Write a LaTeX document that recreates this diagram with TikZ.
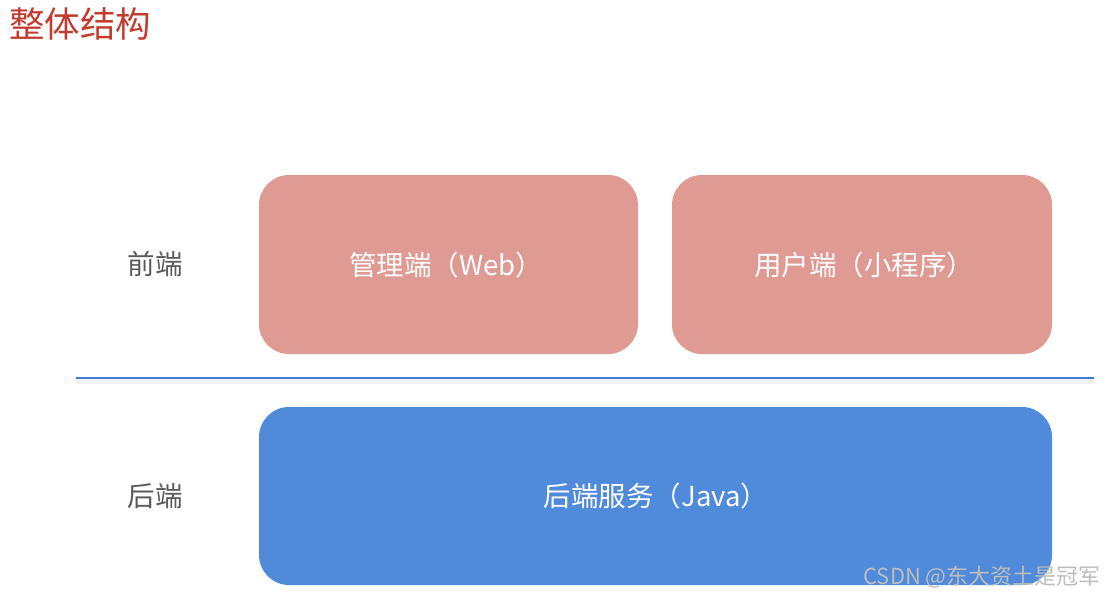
\documentclass[tikz,border=0pt]{standalone}
\usepackage{fontspec}
\newfontfamily\cjk{Noto Sans CJK SC}
\definecolor{titlered}{HTML}{C23B2E}
\definecolor{pinkbox}{HTML}{E09A94}
\definecolor{bluebox}{HTML}{4F8BDA}
\definecolor{labelgray}{HTML}{5A5A5A}
\definecolor{linecol}{HTML}{3F7AD6}
\definecolor{wmgray}{HTML}{BDBDBD}
\tikzset{
  box/.style={rounded corners=30pt, inner sep=0pt, text=white, font=\cjk\fontsize{27.5}{32}\selectfont},
  sidelabel/.style={text=labelgray, font=\cjk\fontsize{27.5}{32}\selectfont, inner sep=0pt},
}
\begin{document}
\begin{tikzpicture}[x=1pt,y=-1pt]
\useasboundingbox[fill=white] (0,0) rectangle (1116,597);
\node[anchor=west, text=titlered, font=\cjk\fontsize{35.5}{40}\selectfont, inner sep=0pt] (title) at (9,24) {整体结构};
\fill[pinkbox, rounded corners=30pt] (259,175) rectangle (638,354);
\node[box] (web) at (446,265) {管理端（Web）};
\fill[pinkbox, rounded corners=30pt] (672,175) rectangle (1052,354);
\node[box] (mini) at (864,265) {用户端（小程序）};
\fill[bluebox, rounded corners=30pt] (259,407) rectangle (1052,585);
\node[box] (java) at (656,496) {后端服务（Java）};
\node[sidelabel] (front) at (155,264) {前端};
\node[sidelabel] (back) at (155,496) {后端};
\coordinate (ls) at (76,378);
\coordinate (le) at (1094,378);
\draw[black!5, line width=5pt] ([yshift=-3pt]ls) -- ([yshift=-3pt]le);
\draw[linecol, line width=1.5pt] (ls) -- (le);
\node[anchor=east, text=wmgray, font=\cjk\fontsize{22}{25}\selectfont, inner sep=0pt] (wm) at (1101,577) {CSDN @东大资土是冠军};
\end{tikzpicture}
\end{document}
